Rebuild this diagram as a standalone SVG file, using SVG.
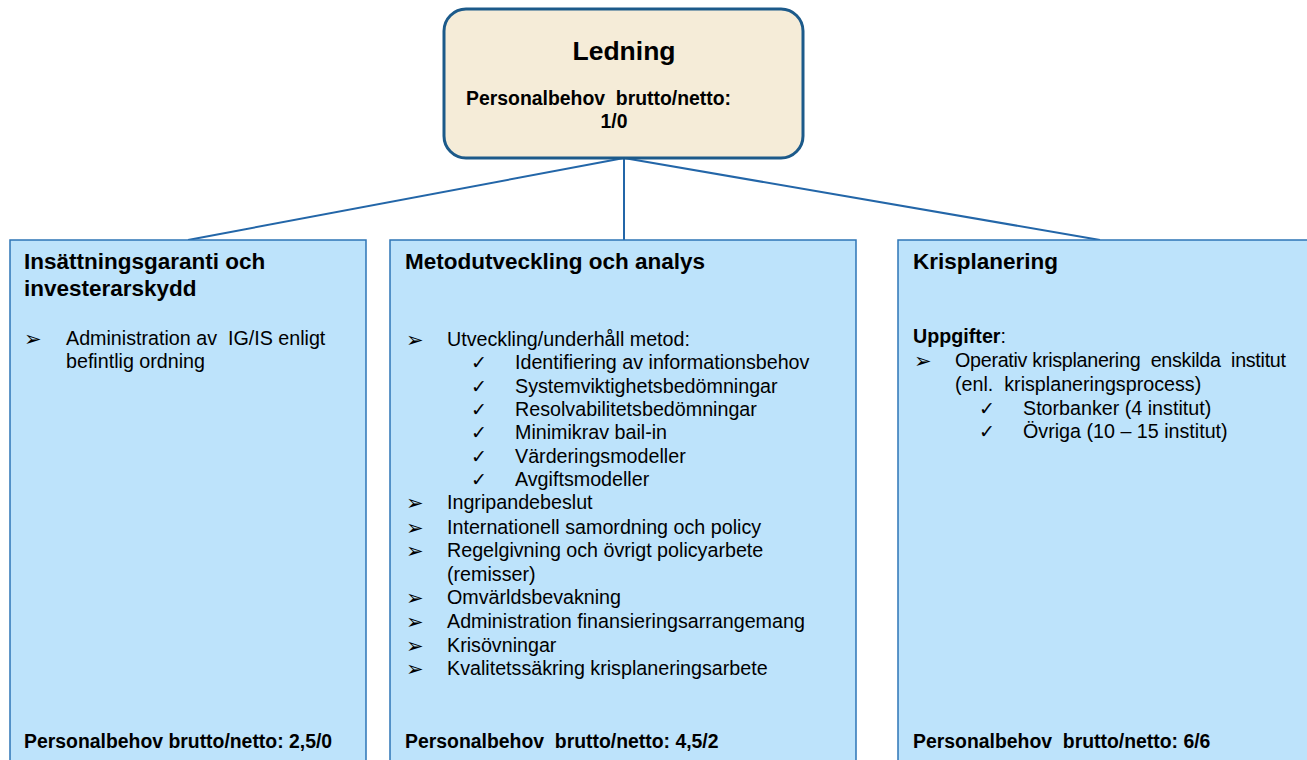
<svg xmlns="http://www.w3.org/2000/svg" width="1307" height="760" viewBox="0 0 1307 760">
<style>
.t{font-family:"Liberation Sans",Arial,sans-serif;fill:#000}
.b{font-weight:bold}
.h{font-size:22.5px;font-weight:bold}
.r{font-size:19.7px}
.s{font-size:19.4px;font-weight:bold}
.g{font-family:"DejaVu Sans",sans-serif;font-size:21px;fill:#000}
.c{font-family:"DejaVu Sans",sans-serif;font-size:19px;fill:#000}
.box{fill:#BDE3FB;stroke:#2E75B6;stroke-width:1.5}
.con{stroke:#2366A8;stroke-width:2;fill:none}
</style>
<rect width="1307" height="760" fill="#fff"/>
<g id="connectors">
<line class="con" x1="624" y1="158" x2="188" y2="240"/>
<line class="con" x1="624" y1="158" x2="624" y2="240"/>
<line class="con" x1="624" y1="158" x2="1100" y2="240"/>
</g>
<g id="ledning">
<rect x="444" y="9" width="359" height="149" rx="22" fill="#F5ECD8" stroke="#1C5A8A" stroke-width="3"/>
<text class="t b" x="624" y="60" font-size="26.5" text-anchor="middle">Ledning</text>
<text class="t s" x="466" y="105" xml:space="preserve">Personalbehov  brutto/netto:</text>
<text class="t s" x="614" y="128" text-anchor="middle">1/0</text>
</g>
<g id="insattning">
<rect class="box" x="10" y="240" width="356" height="530"/>
<text class="t h" x="24" y="269">Insättningsgaranti och</text>
<text class="t h" x="24" y="296">investerarskydd</text>
<text class="g" x="24" y="346">➢</text>
<text class="t r" x="66" y="345" xml:space="preserve">Administration av  IG/IS enligt</text>
<text class="t r" x="66" y="368">befintlig ordning</text>
<text class="t s" x="24" y="748">Personalbehov brutto/netto: 2,5/0</text>
</g>
<g id="metod">
<rect class="box" x="390" y="240" width="466" height="530"/>
<text class="t h" x="405" y="269">Metodutveckling och analys</text>
<g class="g">
<text x="406" y="347">➢</text>
<text x="406" y="510">➢</text>
<text x="406" y="535">➢</text>
<text x="406" y="558">➢</text>
<text x="406" y="605">➢</text>
<text x="406" y="629">➢</text>
<text x="406" y="653">➢</text>
<text x="406" y="676">➢</text>
</g>
<g class="c">
<text x="471" y="369">✓</text>
<text x="471" y="393">✓</text>
<text x="471" y="416">✓</text>
<text x="471" y="439">✓</text>
<text x="471" y="463">✓</text>
<text x="471" y="486">✓</text>
</g>
<g class="t r" xml:space="preserve">
<text x="447" y="346">Utveckling/underhåll  metod:</text>
<text x="515" y="369">Identifiering av informationsbehov</text>
<text x="515" y="393">Systemviktighetsbedömningar</text>
<text x="515" y="416">Resolvabilitetsbedömningar</text>
<text x="515" y="439">Minimikrav bail-in</text>
<text x="515" y="463">Värderingsmodeller</text>
<text x="515" y="486">Avgiftsmodeller</text>
<text x="447" y="509">Ingripandebeslut</text>
<text x="447" y="534">Internationell  samordning  och policy</text>
<text x="447" y="557">Regelgivning  och övrigt policyarbete</text>
<text x="447" y="581">(remisser)</text>
<text x="447" y="604">Omvärldsbevakning</text>
<text x="447" y="628">Administration  finansieringsarrangemang</text>
<text x="447" y="652">Krisövningar</text>
<text x="447" y="675">Kvalitetssäkring  krisplaneringsarbete</text>
</g>
<text class="t s" x="405" y="748" xml:space="preserve">Personalbehov  brutto/netto: 4,5/2</text>
</g>
<g id="kris">
<rect class="box" x="898" y="240" width="420" height="530"/>
<text class="t h" x="913" y="269">Krisplanering</text>
<text class="t r" x="913" y="343"><tspan font-weight="bold">Uppgifter</tspan>:</text>
<text class="g" x="914" y="368">➢</text>
<text class="t r" x="955" y="367" xml:space="preserve" textLength="331" lengthAdjust="spacing">Operativ krisplanering  enskilda  institut</text>
<text class="t r" x="955" y="391" xml:space="preserve">(enl.  krisplaneringsprocess)</text>
<text class="c" x="979" y="415">✓</text>
<text class="t r" x="1023" y="415">Storbanker (4 institut)</text>
<text class="c" x="979" y="438">✓</text>
<text class="t r" x="1023" y="438">Övriga (10 – 15 institut)</text>
<text class="t s" x="913" y="748" xml:space="preserve">Personalbehov  brutto/netto: 6/6</text>
</g>
</svg>
